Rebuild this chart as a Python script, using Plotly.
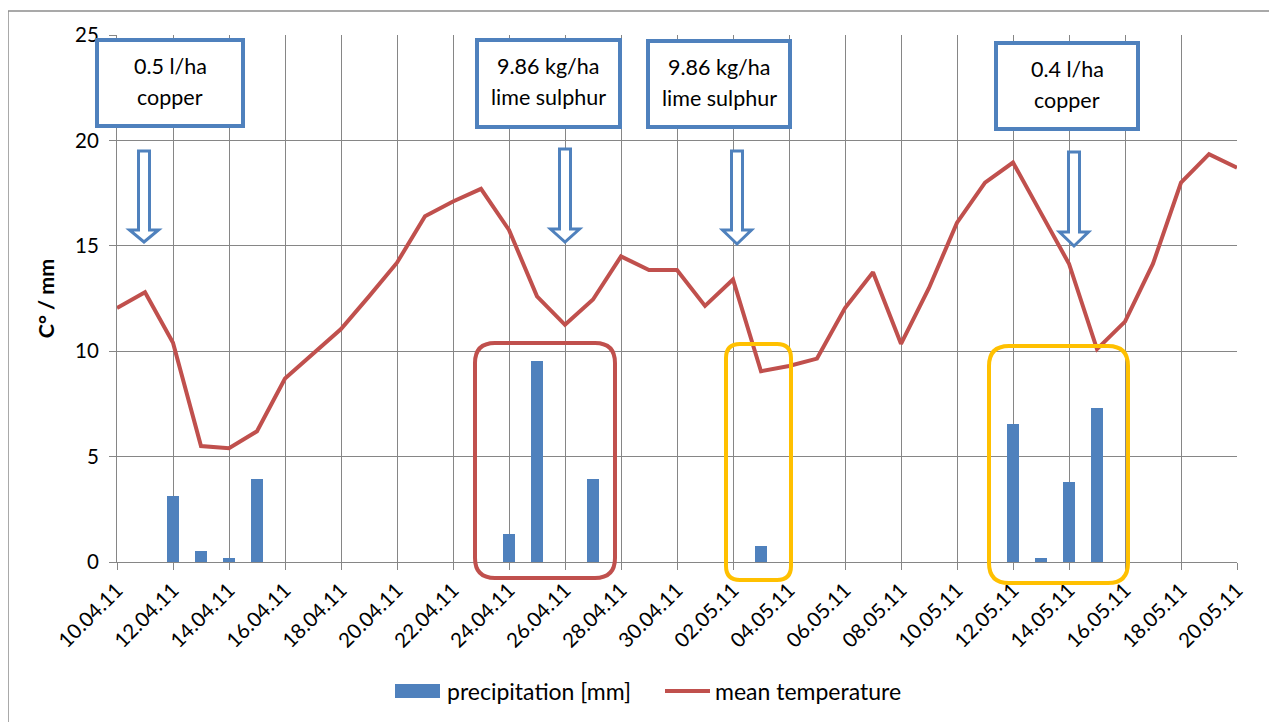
import plotly.graph_objects as go
import pandas as pd

# ---------------- data ----------------
dates = pd.date_range("2011-04-10", "2011-05-20", freq="D").strftime("%Y-%m-%d").tolist()
temperature = [12.05, 12.8, 10.4, 5.5, 5.4, 6.2, 8.7, 9.9, 11.05, 12.6, 14.2,
               16.4, 17.1, 17.7, 15.75, 12.6, 11.25, 12.45, 14.5, 13.85, 13.85,
               12.15, 13.4, 9.05, 9.3, 9.65, 12.05, 13.75, 10.35, 13.0, 16.1,
               18.0, 18.95, 16.55, 14.15, 10.1, 11.4, 14.15, 18.0, 19.35, 18.7]
precip_dates = ["2011-04-12", "2011-04-13", "2011-04-14", "2011-04-15",
                "2011-04-24", "2011-04-25", "2011-04-27", "2011-05-03",
                "2011-05-12", "2011-05-13", "2011-05-14", "2011-05-15"]
precipitation = [3.12, 0.52, 0.19, 3.96, 1.35, 9.53, 3.96, 0.75, 6.57, 0.19, 3.78, 7.31]
series_names = ["precipitation [mm]", "mean temperature"]
treatment_lines1 = ["0.5 l/ha", "9.86 kg/ha", "9.86 kg/ha", "0.4 l/ha"]
treatment_lines2 = ["copper", "lime sulphur", "lime sulphur", "copper"]

# ---------------- styling / layout helpers ----------------
W, H = 1277, 722
OFF = 8                      # page body margin of the html page
L, R, T, B = 117, 1237, 35, 562   # plot area in screenshot pixels
BLUE = "#4F81BD"
RED = "#C0504D"
ORANGE = "#FFC000"
GRID = "#868686"
FONT = "Lato, Carlito, Calibri, sans-serif"


def px(xp):
    return (xp - L) / (R - L)


def py(yp):
    return (B - yp) / (B - T)


def path_from(points, close=True):
    s = "M " + " L ".join(f"{px(x):.5f},{py(y):.5f}" for x, y in points)
    return s + (" Z" if close else "")


def rounded_rect(x0, y0, x1, y1, r):
    def p(x, y):
        return f"{px(x):.5f},{py(y):.5f}"
    return (f"M {p(x0 + r, y0)} L {p(x1 - r, y0)} Q {p(x1, y0)} {p(x1, y0 + r)} "
            f"L {p(x1, y1 - r)} Q {p(x1, y1)} {p(x1 - r, y1)} "
            f"L {p(x0 + r, y1)} Q {p(x0, y1)} {p(x0, y1 - r)} "
            f"L {p(x0, y0 + r)} Q {p(x0, y0)} {p(x0 + r, y0)} Z")


fig = go.Figure()
fig.add_trace(go.Bar(
    x=precip_dates, y=precipitation, name=series_names[0],
    marker=dict(color=BLUE, line=dict(width=0)),
    width=0.42 * 86400000, showlegend=False,
))
fig.add_trace(go.Scatter(
    x=dates, y=temperature, name=series_names[1], mode="lines",
    line=dict(color=RED, width=4), showlegend=False,
))

shapes = []
# outer chart border (left and top visible)
shapes.append(dict(type="line", xref="paper", yref="paper",
                   x0=px(8), x1=px(8), y0=py(11), y1=py(H + 20),
                   line=dict(color="#8c8c8c", width=1.5)))
shapes.append(dict(type="line", xref="paper", yref="paper",
                   x0=px(8), x1=px(W + 20), y0=py(11), y1=py(11),
                   line=dict(color="#8c8c8c", width=1.5)))

# treatment boxes (pixel geometry)
boxes = [(97, 40, 243, 126), (477, 40, 620, 127), (648, 41, 790, 127), (996, 43, 1138, 129)]
for (x0, y0, x1, y1), t1, t2 in zip(boxes, treatment_lines1, treatment_lines2):
    shapes.append(dict(type="rect", xref="paper", yref="paper",
                       x0=px(x0), x1=px(x1), y0=py(y1), y1=py(y0),
                       line=dict(color=BLUE, width=4), fillcolor="white", layer="above"))
    cx = (x0 + x1) / 2
    fig.add_annotation(x=px(cx), y=py(y0 + 26), xref="paper", yref="paper",
                       text=t1, showarrow=False, font=dict(family=FONT, size=21.5, color="black"),
                       xanchor="center", yanchor="middle")
    fig.add_annotation(x=px(cx), y=py(y0 + 57), xref="paper", yref="paper",
                       text=t2, showarrow=False, font=dict(family=FONT, size=21.5, color="black"),
                       xanchor="center", yanchor="middle")

# hollow block arrows
arrows = [(144, 151, 230, 242), (565, 149, 229, 242), (737, 151, 230, 244), (1074, 152, 232, 246)]
for cx, top, head, tip in arrows:
    sw, hw = 5.5, 14.5
    pts = [(cx - sw, top), (cx - sw, head), (cx - hw, head), (cx, tip),
           (cx + hw, head), (cx + sw, head), (cx + sw, top)]
    shapes.append(dict(type="path", xref="paper", yref="paper", path=path_from(pts),
                       line=dict(color=BLUE, width=3), fillcolor="white", layer="above"))

# highlight frames
frames = [(475, 343, 615, 578, 20, RED), (726, 344, 791, 580, 14, ORANGE),
          (989, 346, 1128, 583, 20, ORANGE)]
for x0, y0, x1, y1, r, c in frames:
    shapes.append(dict(type="path", xref="paper", yref="paper",
                       path=rounded_rect(x0, y0, x1, y1, r),
                       line=dict(color=c, width=4), layer="above"))

# legend (drawn to match the wide swatches of the original)
LEG_Y = 691
shapes.append(dict(type="rect", xref="paper", yref="paper",
                   x0=px(395), x1=px(440), y0=py(LEG_Y + 7), y1=py(LEG_Y - 7),
                   line=dict(width=0), fillcolor=BLUE))
shapes.append(dict(type="line", xref="paper", yref="paper",
                   x0=px(665), x1=px(710), y0=py(LEG_Y), y1=py(LEG_Y),
                   line=dict(color=RED, width=4)))
fig.add_annotation(x=px(445), y=py(LEG_Y), xref="paper", yref="paper", text=series_names[0],
                   showarrow=False, xanchor="left", yanchor="middle",
                   font=dict(family=FONT, size=23, color="black"))
fig.add_annotation(x=px(713), y=py(LEG_Y), xref="paper", yref="paper", text=series_names[1],
                   showarrow=False, xanchor="left", yanchor="middle",
                   font=dict(family=FONT, size=23, color="black"))

fig.update_layout(
    width=W, height=H,
    margin=dict(l=L - OFF, r=W - (R - OFF), t=T - OFF, b=H - (B - OFF), pad=0, autoexpand=False),
    paper_bgcolor="white", plot_bgcolor="white",
    font=dict(family=FONT, size=19, color="black"),
    shapes=shapes,
    bargap=0,
    showlegend=False,
)
fig.update_xaxes(
    type="date", range=["2011-04-10", "2011-05-20"],
    tick0="2011-04-10", dtick=2 * 86400000, tickformat="%d.%m.%y",
    tickangle=-45, ticks="outside", ticklen=7, tickcolor=GRID,
    showgrid=True, gridcolor=GRID, gridwidth=1,
    showline=True, linecolor=GRID, linewidth=1, mirror=False,
    tickfont=dict(family=FONT, size=20.5, color="black"), zeroline=False,
    automargin=False,
)
fig.update_yaxes(
    range=[0, 25], dtick=5, tick0=0, ticks="outside", ticklen=7, tickcolor=GRID,
    showgrid=True, gridcolor=GRID, gridwidth=1,
    showline=True, linecolor=GRID, linewidth=1, zeroline=False,
    tickfont=dict(family=FONT, size=20.5, color="black"), ticklabelstandoff=6,
    title=dict(text="<b>C° / mm</b>", standoff=14, font=dict(family=FONT, size=21.5, color="black")),
    automargin=False,
)

fig.write_html("out.html")
